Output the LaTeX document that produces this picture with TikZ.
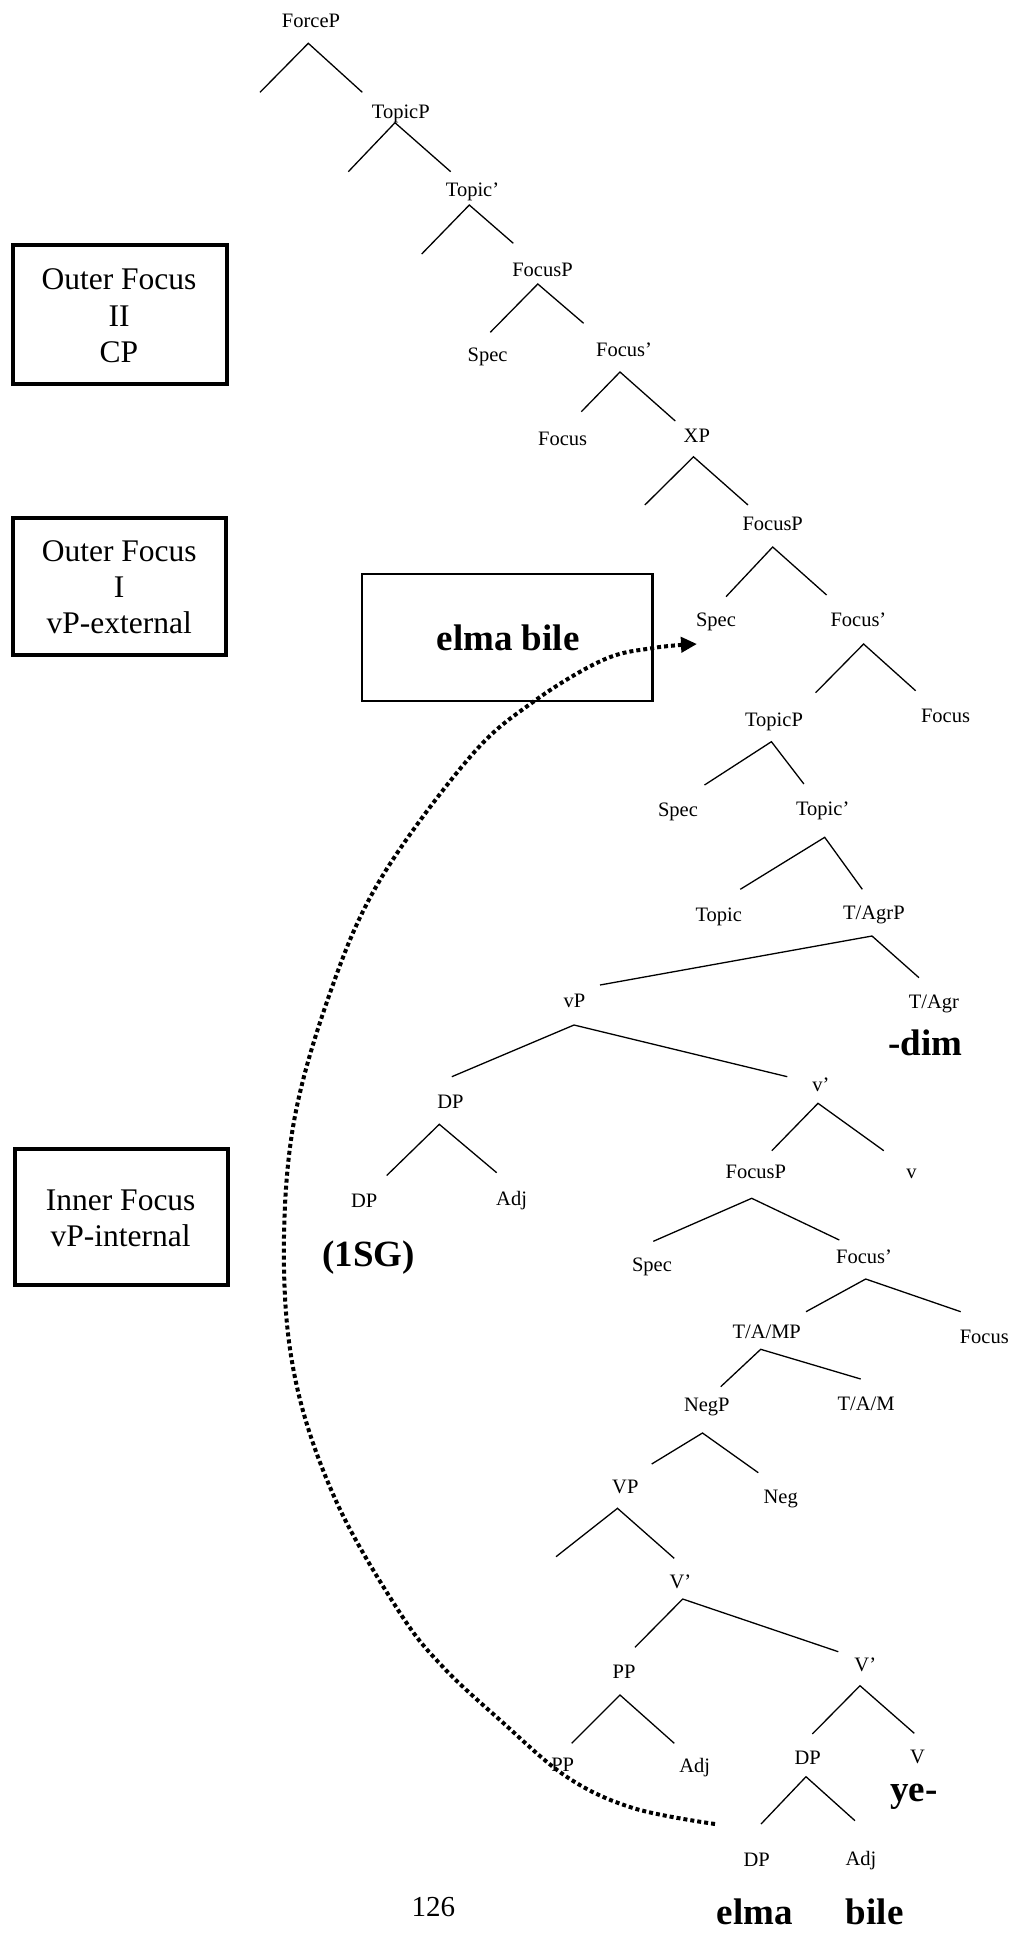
\documentclass[tikz,border=0pt]{standalone}
\usepackage{fontspec}
\setmainfont{Liberation Serif}
\usetikzlibrary{arrows.meta}
\begin{document}
\begin{tikzpicture}[x=1pt,y=-1pt,
  lbl/.style={anchor=base, inner sep=0pt, font=\fontsize{20.5}{24}\selectfont},
  big/.style={anchor=base, inner sep=0pt, font=\fontsize{31.5}{36}\selectfont},
  bld/.style={anchor=base, inner sep=0pt, font=\bfseries\fontsize{37}{42}\selectfont},
  pagenum/.style={anchor=base, inner sep=0pt, font=\fontsize{29}{34}\selectfont},
  br/.style={line width=1.3pt},
  frame/.style={draw, line width=4pt, inner sep=0pt},
  thinframe/.style={draw, line width=2.5pt, inner sep=0pt},
  mv/.style={line width=4pt, dash pattern=on 4pt off 3pt, -{Triangle[length=16pt,width=15pt]}}
]
\useasboundingbox (0,0) rectangle (1018,1933);

% ---------- boxes ----------
\node[frame, minimum width=214pt, minimum height=138.7pt] (boxA) at (119.5,314.7) {};
\node[big] (boxA1) at (119,289.3) {Outer Focus};
\node[big] (boxA2) at (119,326) {II};
\node[big] (boxA3) at (119,362.7) {CP};

\node[frame, minimum width=213pt, minimum height=137.3pt] (boxB) at (119.5,586.7) {};
\node[big] (boxB1) at (119.2,561.7) {Outer Focus};
\node[big] (boxB2) at (119.2,597.3) {I};
\node[big] (boxB3) at (119.2,633.3) {vP-external};

\node[thinframe, minimum width=290.8pt, minimum height=127pt] (boxC) at (507.3,637.5) {};
\node[bld] (boxC1) at (508,650.5) {elma bile};

\node[frame, minimum width=213pt, minimum height=136pt] (boxD) at (121,1216.7) {};
\node[big] (boxD1) at (120.7,1210) {Inner Focus};
\node[big] (boxD2) at (120.7,1246.7) {vP-internal};

% ---------- labels ----------
\node[lbl] (forceP) at (311,27.3) {ForceP};
\node[lbl] (topicP1) at (400.8,118.3) {TopicP};
\node[lbl] (topicB1) at (472.5,196.7) {Topic’};
\node[lbl] (focusP1) at (542.5,276.7) {FocusP};
\node[lbl] (spec1) at (487.6,361.7) {Spec};
\node[lbl] (focusB1) at (624,356) {Focus’};
\node[lbl] (focus1) at (562.7,445) {Focus};
\node[lbl] (xp) at (696.8,442.5) {XP};
\node[lbl] (focusP2) at (772.7,530.7) {FocusP};
\node[lbl] (spec2) at (716,626.7) {Spec};
\node[lbl] (focusB2) at (858.4,626.7) {Focus’};
\node[lbl] (topicP2) at (774,726.7) {TopicP};
\node[lbl] (focus2) at (945.5,722.7) {Focus};
\node[lbl] (spec3) at (678,816.7) {Spec};
\node[lbl] (topicB2) at (822.7,815.5) {Topic’};
\node[lbl] (topic2) at (718.8,921) {Topic};
\node[lbl] (tagrP) at (873.9,919.3) {T/AgrP};
\node[lbl] (vP) at (574.5,1007.5) {vP};
\node[lbl] (tagr) at (934,1008.3) {T/Agr};
\node[bld] (dim) at (925.6,1055) {-dim};
\node[lbl] (dp1) at (450.5,1108.3) {DP};
\node[lbl] (vbar) at (821,1091.7) {v’};
\node[lbl] (focusP3) at (755.8,1178.3) {FocusP};
\node[lbl] (v) at (911.5,1178.3) {v};
\node[lbl] (dp2) at (364.2,1207) {DP};
\node[lbl] (adj1) at (511.6,1205) {Adj};
\node[bld] (sg) at (368.5,1266.7) {(1SG)};
\node[lbl] (spec4) at (652,1271.7) {Spec};
\node[lbl] (focusB3) at (864,1263.3) {Focus’};
\node[lbl] (tamP) at (766.7,1338.3) {T/A/MP};
\node[lbl] (focus3) at (984.3,1343.3) {Focus};
\node[lbl] (negP) at (706.8,1411.7) {NegP};
\node[lbl] (tam) at (866,1410.7) {T/A/M};
\node[lbl] (VP) at (625.3,1493.3) {VP};
\node[lbl] (neg) at (780.7,1503.3) {Neg};
\node[lbl] (Vbar1) at (680.5,1588.3) {V’};
\node[lbl] (pp1) at (624,1678.3) {PP};
\node[lbl] (Vbar2) at (865.3,1671.7) {V’};
\node[lbl] (pp2) at (562.7,1771.7) {PP};
\node[lbl] (adj2) at (694.7,1772.7) {Adj};
\node[lbl] (dp3) at (807.7,1764) {DP};
\node[lbl] (V) at (917.6,1763.3) {V};
\node[bld] (ye) at (914,1801.7) {ye-};
\node[lbl] (dp4) at (756.7,1866.7) {DP};
\node[lbl] (adj3) at (861,1865) {Adj};
\node[pagenum] (page) at (433.3,1916) {126};
\node[bld] (elma) at (755,1924) {elma};
\node[bld] (bile) at (874.7,1924) {bile};

% ---------- branch points ----------
\foreach \n/\ax/\ay/\lx/\ly/\rx/\ry in {
  b1/308.3/43.3/260/92.3/362.3/92.3,
  b2/395/122.7/348.3/171.7/450.7/171.7,
  b3/469.3/205/421.7/254/513.3/243.3,
  b4/537.8/284/490.3/332.3/583.6/323.3,
  b5/620/372/581.3/411.7/675.3/421,
  b6/693.5/456.8/644.8/505/748/505,
  b7/772.7/547/726/596.7/826.6/595,
  b8/863.6/644/815.6/692.7/915.6/690.7,
  b9/771.4/741.7/704.5/785/803.9/784,
  b10/824.7/837.3/740.3/889.3/862.3/889.3,
  b11/872/936/600/985/919/977.7,
  b12/574/1025/451.8/1076.7/787.3/1076.7,
  b13/818/1103.3/771.8/1150.7/883.8/1150.7,
  b14/439.3/1124.3/386.7/1175.5/496.7/1172.7,
  b15/751.7/1198.3/653.3/1241.3/839.3/1240,
  b16/865.7/1279/806/1311.7/960.7/1311.7,
  b17/760.7/1349.3/720.7/1386.7/860.7/1379,
  b18/702.5/1433/651.7/1464/758.3/1472.7,
  b19/617.5/1508.3/556/1556.7/674.2/1558.3,
  b20/682.7/1599/635/1647.3/838.3/1651.7,
  b21/620/1695/571.7/1743.3/674.3/1743.3,
  b22/860/1685.7/812.3/1734/914.3/1733.3,
  b23/806/1776.7/761/1824/855/1820.7}{
  \coordinate (\n-a) at (\ax,\ay);
  \coordinate (\n-l) at (\lx,\ly);
  \coordinate (\n-r) at (\rx,\ry);
  \draw[br] (\n-l) -- (\n-a) -- (\n-r);
}

% ---------- movement arrow ----------
\coordinate (mvS) at (715,1824);
\coordinate (mvE) at (697,644);
\draw[mv] plot[smooth, tension=0.6] coordinates {(mvS) (633,1808) (567,1777) (500,1720) (443,1667) (400,1613) (337,1503) (297,1387) (284,1267) (293,1127) (330,993) (380,880) (470,757) (533,702) (603,660) (653,648) (mvE)};
\end{tikzpicture}
\end{document}
